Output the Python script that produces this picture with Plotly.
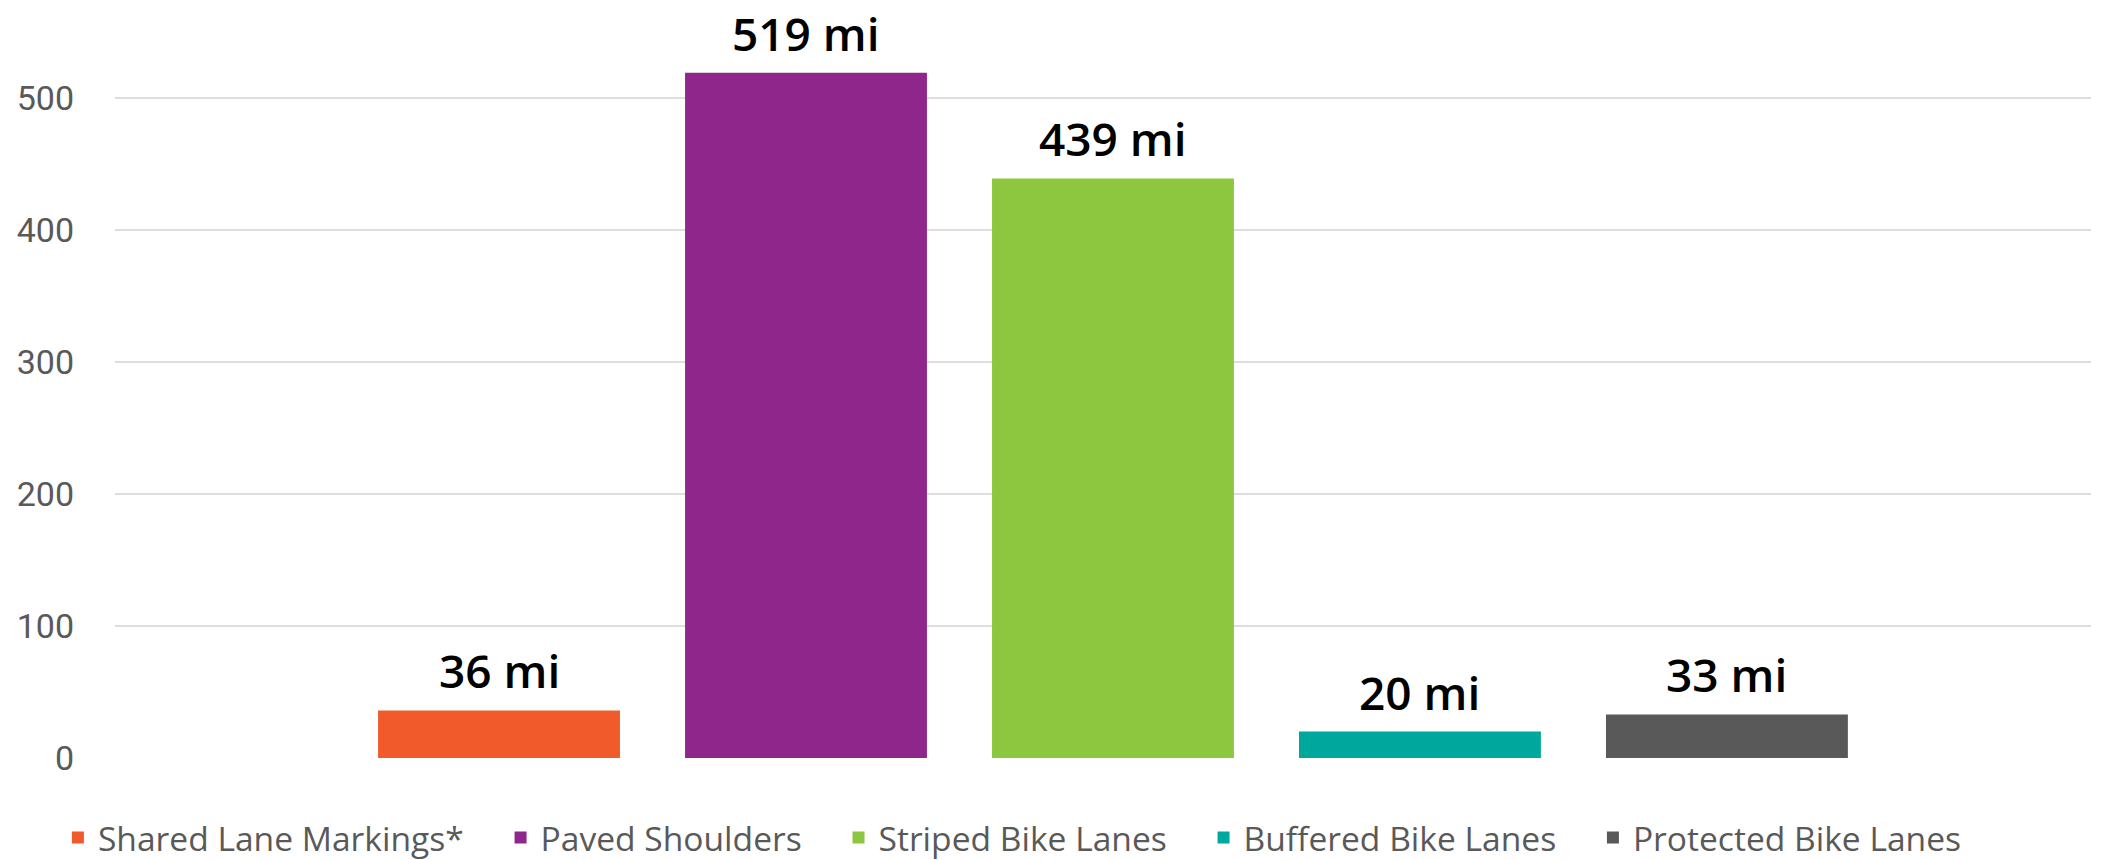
import plotly.graph_objects as go

categories = ["Shared Lane Markings*", "Paved Shoulders", "Striped Bike Lanes",
              "Buffered Bike Lanes", "Protected Bike Lanes"]
miles = [36, 519, 439, 20, 33]
label_suffix = " mi"
colors = ["#F15A2B", "#8F268C", "#8DC63F", "#00A79D", "#595959"]
y_ticks = [0, 100, 200, 300, 400, 500]

legend_pad = "\u00a0" * 3 + "\u2006"

fig = go.Figure()
for cat, val, col in zip(categories, miles, colors):
    fig.add_trace(go.Bar(x=[cat], y=[val], name=cat + legend_pad,
                         marker=dict(color=col, line=dict(width=0)),
                         width=0.788, hoverinfo="x+y"))
    fig.add_annotation(x=cat, y=val, text=f"{val}{label_suffix}", showarrow=False,
                       yanchor="bottom", yshift=7,
                       font=dict(family="Open Sans", size=46, color="#000000", weight=600))

fig.update_layout(
    width=2118, height=860,
    paper_bgcolor="white", plot_bgcolor="white",
    margin=dict(l=115, r=27, t=20, b=102, autoexpand=False),
    barmode="overlay",
    showlegend=True,
    legend=dict(orientation="h", x=-0.0289, xanchor="left", y=-0.108, yanchor="middle",
                font=dict(family="Open Sans", size=33.6, color="#595959"),
                bgcolor="rgba(0,0,0,0)",
                itemclick=False, traceorder="normal"),
    xaxis=dict(type="category", categoryorder="array", categoryarray=categories,
               range=[-1.251, 5.186], showticklabels=False, showgrid=False,
               zeroline=False, showline=False, ticks=""),
    yaxis=dict(range=[0, 559], tickvals=y_ticks, showgrid=True, gridcolor="#dedede",
               gridwidth=2, zeroline=False, showline=False, ticks="",
               ticklabelstandoff=40,
               tickfont=dict(family="Roboto", size=34, color="#595959")),
)

fig.write_html("out.html", config={"displayModeBar": False},
               post_script="document.body.style.margin='0';document.body.style.overflow='hidden';")
